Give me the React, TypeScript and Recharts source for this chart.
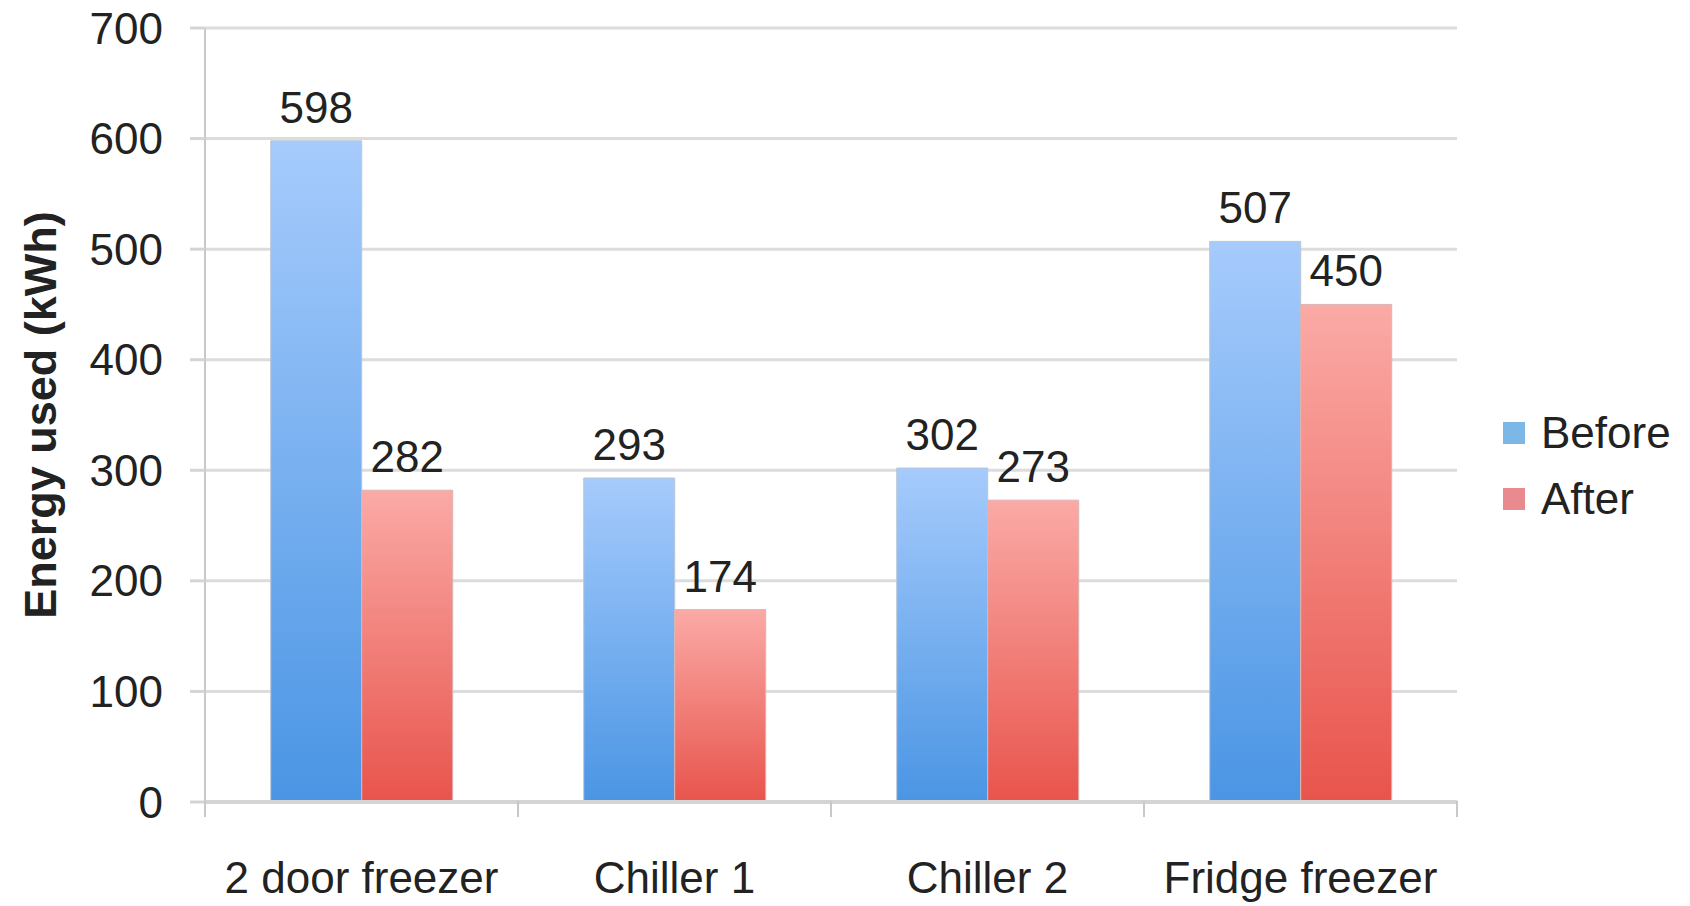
import {
  BarChart,
  Bar,
  XAxis,
  YAxis,
  CartesianGrid,
  Legend,
  LabelList,
} from "recharts";

const categories = ["2 door freezer", "Chiller 1", "Chiller 2", "Fridge freezer"];
const before = [598, 293, 302, 507];
const after = [282, 174, 273, 450];
const yTicks = [0, 100, 200, 300, 400, 500, 600, 700];

const data = categories.map((name, i) => ({
  name,
  Before: before[i],
  After: after[i],
}));

const FONT = "'Liberation Sans', Arial, sans-serif";
const W = 1690;
const H = 906;
const LEFT = 205;
const RIGHT_EDGE = 1457;
const band = (RIGHT_EDGE - LEFT) / categories.length;

const XTick = (props: any) => {
  const { x, y, payload, index } = props;
  const last = index === categories.length - 1;
  return (
    <g>
      <line x1={x - band / 2} x2={x - band / 2} y1={y - 16} y2={y} stroke="#c8c8c8" strokeWidth={2} />
      {last && (
        <line x1={x + band / 2} x2={x + band / 2} y1={y - 16} y2={y} stroke="#c8c8c8" strokeWidth={2} />
      )}
      <text x={x} y={y + 76} textAnchor="middle" fontSize={44} fill="#222" fontFamily={FONT}>
        {payload.value}
      </text>
    </g>
  );
};

const LegendBox = () => (
  <div style={{ fontFamily: FONT, fontSize: 44, color: "#222", paddingLeft: 46 }}>
    {[
      { name: "Before", color: "#7db7e6" },
      { name: "After", color: "#e88a8e" },
    ].map((it) => (
      <div key={it.name} style={{ display: "flex", alignItems: "center", height: 66 }}>
        <span style={{ width: 22, height: 22, background: it.color, display: "inline-block", marginRight: 16 }} />
        <span>{it.name}</span>
      </div>
    ))}
  </div>
);

export default function App() {
  return (
    <div style={{ position: "absolute", left: 0, top: 0, background: "#fff" }}>
      <BarChart
        width={W}
        height={H}
        data={data}
        margin={{ top: 28, right: 13, left: 0, bottom: 0 }}
        barCategoryGap="21%"
        barGap={0}
      >
        <defs>
          <linearGradient id="gBefore" x1="0" y1="0" x2="0" y2="1">
            <stop offset="0%" stopColor="#a6cbfc" />
            <stop offset="100%" stopColor="#4a95e4" />
          </linearGradient>
          <linearGradient id="gAfter" x1="0" y1="0" x2="0" y2="1">
            <stop offset="0%" stopColor="#fbaaa6" />
            <stop offset="100%" stopColor="#e8544c" />
          </linearGradient>
        </defs>
        <CartesianGrid vertical={false} stroke="#dcdcdc" strokeWidth={3} />
        <XAxis
          dataKey="name"
          height={104}
          tickSize={15}
          tickMargin={0}
          tickLine={false}
          axisLine={{ stroke: "#d4d4d4", strokeWidth: 4 }}
          tick={<XTick />}
          interval={0}
        />
        <YAxis
          width={LEFT}
          domain={[0, 700]}
          ticks={yTicks}
          tickSize={15}
          tickMargin={27}
          tickLine={{ stroke: "#d4d4d4", strokeWidth: 3 }}
          axisLine={{ stroke: "#c8c8c8", strokeWidth: 2 }}
          tick={{ fontSize: 44, fill: "#222", fontFamily: FONT }}
          label={{
            value: "Energy used (kWh)",
            angle: -90,
            position: "insideLeft",
            offset: 0,
            dx: 40,
            style: { fontSize: 45, fontWeight: "bold", fill: "#222", fontFamily: FONT, textAnchor: "middle" },
          }}
        />
        <Legend
          layout="vertical"
          align="right"
          verticalAlign="top"
          content={<LegendBox />}
          wrapperStyle={{ width: 220, top: 400 }}
        />
        <Bar dataKey="Before" fill="url(#gBefore)" stroke="#b9c6d6" strokeWidth={1} isAnimationActive={false}>
          <LabelList dataKey="Before" position="top" offset={18} fontSize={44} fill="#222" fontFamily={FONT} />
        </Bar>
        <Bar dataKey="After" fill="url(#gAfter)" stroke="#d9b5b5" strokeWidth={1} isAnimationActive={false}>
          <LabelList dataKey="After" position="top" offset={18} fontSize={44} fill="#222" fontFamily={FONT} />
        </Bar>
      </BarChart>
    </div>
  );
}
